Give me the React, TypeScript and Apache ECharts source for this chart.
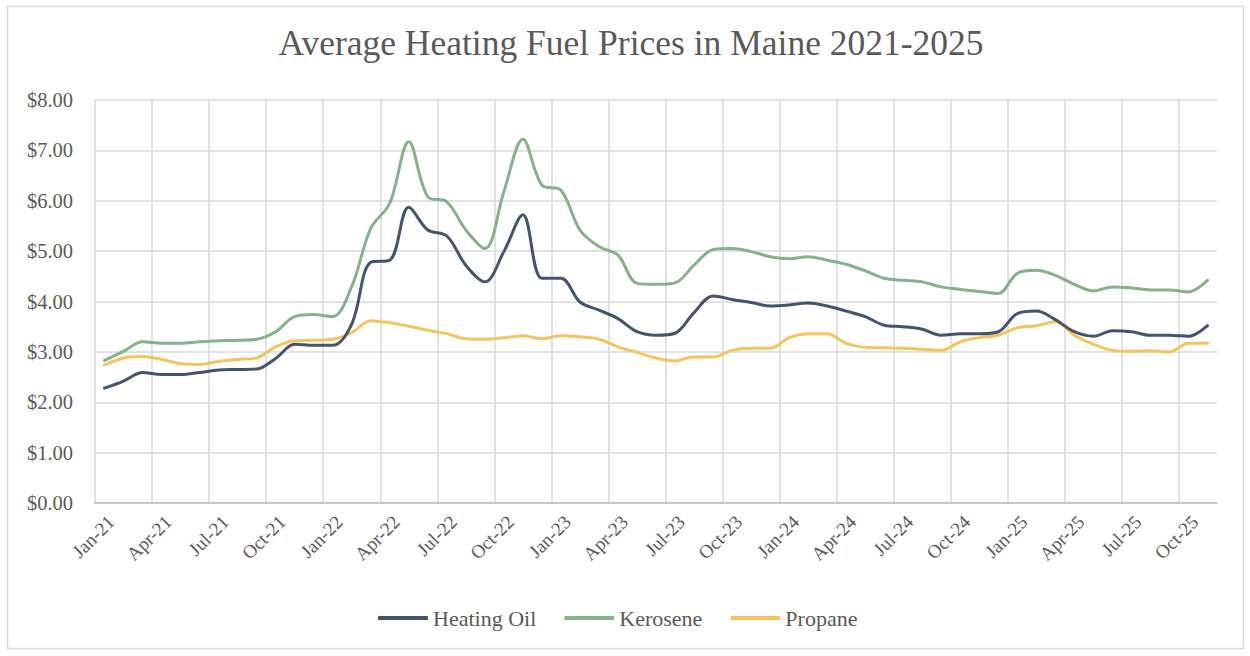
import React, { useEffect, useRef } from "react";
import * as echarts from "echarts";

const MONTHS = ["Jan", "Feb", "Mar", "Apr", "May", "Jun", "Jul", "Aug", "Sep", "Oct", "Nov", "Dec"];
const YEARS = ["21", "22", "23", "24", "25"];
const categories: string[] = [];
YEARS.forEach((y) => MONTHS.forEach((m) => categories.push(`${m}-${y}`)));
categories.splice(59); // Jan-21 .. Nov-25

const heatingOil = [
  2.28, 2.42, 2.59, 2.55, 2.55, 2.59, 2.64, 2.65, 2.66, 2.87, 3.15, 3.13,
  3.13, 3.55, 4.78, 4.82, 5.87, 5.42, 5.30, 4.72, 4.39, 4.99, 5.72, 4.46,
  4.46, 3.99, 3.83, 3.66, 3.40, 3.33, 3.37, 3.78, 4.11, 4.04, 3.98, 3.91,
  3.93, 3.97, 3.91, 3.81, 3.70, 3.53, 3.50, 3.45, 3.33, 3.36, 3.36, 3.40,
  3.76, 3.81, 3.64, 3.40, 3.31, 3.42, 3.40, 3.33, 3.33, 3.31, 3.52,
];
const kerosene = [
  2.83, 3.01, 3.20, 3.17, 3.17, 3.20, 3.22, 3.23, 3.25, 3.40, 3.70, 3.74,
  3.70, 4.30, 5.45, 5.95, 7.17, 6.08, 5.98, 5.42, 5.05, 6.18, 7.22, 6.31,
  6.21, 5.42, 5.09, 4.92, 4.36, 4.34, 4.37, 4.72, 5.03, 5.05, 4.99, 4.89,
  4.85, 4.89, 4.82, 4.74, 4.61, 4.46, 4.42, 4.39, 4.29, 4.24, 4.20, 4.16,
  4.56, 4.62, 4.52, 4.34, 4.21, 4.29, 4.27, 4.23, 4.23, 4.19, 4.42,
];
const propane = [
  2.74, 2.88, 2.91, 2.85, 2.77, 2.75, 2.81, 2.85, 2.88, 3.10, 3.22, 3.23,
  3.25, 3.38, 3.62, 3.58, 3.51, 3.43, 3.36, 3.26, 3.25, 3.28, 3.32, 3.26,
  3.32, 3.30, 3.25, 3.10, 2.99, 2.88, 2.82, 2.90, 2.90, 3.03, 3.07, 3.07,
  3.28, 3.36, 3.36, 3.17, 3.09, 3.08, 3.07, 3.05, 3.03, 3.20, 3.28, 3.33,
  3.48, 3.52, 3.60, 3.33, 3.15, 3.03, 3.01, 3.02, 3.00, 3.17, 3.17,
];

const seriesNames = ["Heating Oil", "Kerosene", "Propane"];
const seriesColors = ["#44546A", "#88B08B", "#F4C55F"];
const seriesData = [heatingOil, kerosene, propane];

const FONT = "'Liberation Serif', 'DejaVu Serif', serif";
const TEXT = "#595959";
const GRID = "#D9D9D9";

export default function App() {
  const ref = useRef<HTMLDivElement>(null);
  useEffect(() => {
    if (!ref.current) return;
    const chart = echarts.init(ref.current, null, { renderer: "svg" });
    const splitColors: string[] = [];
    for (let i = 0; i < 20; i++) splitColors.push(GRID);
    splitColors.push("rgba(0,0,0,0)");
    chart.setOption({
      animation: false,
      backgroundColor: "#FFFFFF",
      textStyle: { fontFamily: FONT },
      title: {
        text: "Average Heating Fuel Prices in Maine 2021-2025",
        left: 631,
        textAlign: "center",
        top: 25,
        padding: 0,
        textStyle: { fontFamily: FONT, fontSize: 35.5, fontWeight: "normal", color: TEXT },
      },
      graphic: [
        {
          type: "rect",
          shape: { x: 7.5, y: 6.5, width: 1236, height: 642 },
          style: { fill: "none", stroke: GRID, lineWidth: 1.5 },
          silent: true,
          z: -10,
        },
      ],
      legend: {
        data: seriesNames.map((n) => ({ name: n, icon: "roundRect" })),
        left: 378,
        top: 607,
        padding: 0,
        itemWidth: 50,
        itemHeight: 4,
        itemGap: 28,
        textStyle: { fontFamily: FONT, fontSize: 22, color: TEXT },
      },
      grid: { left: 95, right: 33, top: 100, bottom: 153, containLabel: false },
      xAxis: {
        type: "category",
        data: categories,
        boundaryGap: true,
        axisLine: { show: true, lineStyle: { color: "#BFBFBF", width: 1.5 } },
        axisTick: { show: false },
        axisLabel: {
          interval: 2,
          rotate: 45,
          margin: 9,
          verticalAlign: "top",
          fontFamily: FONT,
          fontSize: 19,
          color: TEXT,
        },
        splitLine: {
          show: true,
          interval: 2,
          lineStyle: { color: splitColors, width: 1.5 },
        },
      },
      yAxis: {
        type: "value",
        min: 0,
        max: 8,
        interval: 1,
        axisLine: { show: false },
        axisTick: { show: false },
        axisLabel: {
          margin: 22,
          fontFamily: FONT,
          fontSize: 20.5,
          color: TEXT,
          formatter: (v: number) => "$" + v.toFixed(2),
        },
        splitLine: { show: true, lineStyle: { color: GRID, width: 1.5 } },
      },
      series: seriesNames.map((name, i) => ({
        name,
        type: "line",
        data: seriesData[i],
        smooth: 0.35,
        symbol: "none",
        color: seriesColors[i],
        lineStyle: { color: seriesColors[i], width: 3, cap: "round", join: "round" },
        itemStyle: { color: seriesColors[i] },
        z: 3 - i,
      })),
    });
    return () => chart.dispose();
  }, []);
  return (
    <div
      ref={ref}
      style={{ position: "absolute", left: 0, top: 0, width: 1250, height: 656 }}
    />
  );
}
